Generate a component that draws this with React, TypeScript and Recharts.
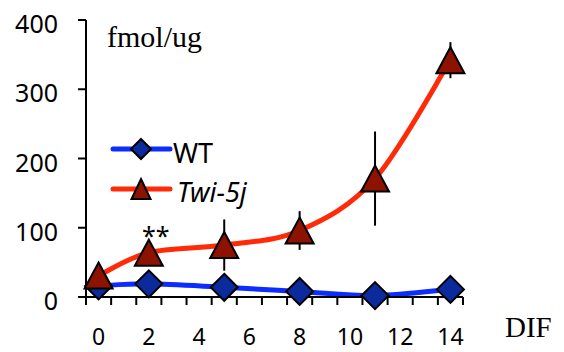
import React from 'react';
import { LineChart, Line, XAxis, YAxis, ErrorBar, Legend, LabelList } from 'recharts';

// days of differentiation (DIF)
const days = [0, 2, 5, 8, 11, 14];
const wtValues = [16, 19, 14, 8, 2, 11];
const wtErrors = [2, 2, 2, 2, 1, 2];
const twiValues = [31, 64, 75, 96, 171, 342];
const twiErrors = [6, 8, 37, 28, 68, 26];
const twiNotes = ['', '**', '', '', '', ''];

const yTicks = [0, 100, 200, 300, 400];
const xLabelTicks = [0, 2, 4, 6, 8, 10, 12, 14];
const xBoundaryTicks = [-0.5, 0.5, 1.5, 2.5, 3.5, 4.5, 5.5, 6.5, 7.5, 8.5, 9.5, 10.5, 11.5, 12.5, 13.5, 14.5];

const BLUE = '#0D2DFF';
const BLUE_FILL = '#0B2A9C';
const RED = '#FF2A08';
const RED_FILL = '#8E1200';
const SANS = '"Noto Sans", sans-serif';
const SERIF = '"Liberation Serif", serif';

const data = days.map((d, i) => ({
  day: d,
  wt: wtValues[i],
  wtErr: wtErrors[i],
  twi: twiValues[i],
  twiErr: twiErrors[i],
  note: twiNotes[i],
}));

const xTicks = [...xBoundaryTicks, ...xLabelTicks].sort((a, b) => a - b);

// spreadsheet-style smoothed line (catmull-rom like bezier)
const smoothCurve = (context: any) => {
  let pts: number[][] = [];
  return {
    areaStart() {},
    areaEnd() {},
    lineStart() {
      pts = [];
    },
    point(x: number, y: number) {
      pts.push([+x, +y]);
    },
    lineEnd() {
      const n = pts.length;
      if (!n) return;
      context.moveTo(pts[0][0], pts[0][1]);
      for (let i = 0; i < n - 1; i++) {
        const p0 = pts[Math.max(i - 1, 0)];
        const p1 = pts[i];
        const p2 = pts[i + 1];
        const p3 = pts[Math.min(i + 2, n - 1)];
        context.bezierCurveTo(
          p1[0] + (p2[0] - p0[0]) / 6,
          p1[1] + (p2[1] - p0[1]) / 6,
          p2[0] - (p3[0] - p1[0]) / 6,
          p2[1] - (p3[1] - p1[1]) / 6,
          p2[0],
          p2[1]
        );
      }
    },
  };
};

const diamond = (cx: number, cy: number, r: number) =>
  `${cx},${cy - r} ${cx + r},${cy} ${cx},${cy + r} ${cx - r},${cy}`;

const triangle = (cx: number, cy: number, w: number, h: number) =>
  `${cx},${cy - h / 2} ${cx + w / 2},${cy + h / 2} ${cx - w / 2},${cy + h / 2}`;

const DiamondDot = (p: any) => (
  <polygon key={`d-${p.index}`} points={diamond(p.cx, p.cy, 13.5)} fill={BLUE_FILL} stroke="#000" strokeWidth={2} />
);

const TriangleDot = (p: any) => (
  <polygon key={`t-${p.index}`} points={triangle(p.cx, p.cy, 28, 26)} fill={RED_FILL} stroke="#000" strokeWidth={2} />
);

const XTick = ({ x, y, payload }: any) => {
  const v = payload.value;
  if (xLabelTicks.includes(v)) {
    return (
      <text x={x} y={y + 48} textAnchor="middle" fontSize={23} fontFamily={SANS} fill="#000">
        {v}
      </text>
    );
  }
  return <line x1={x} x2={x} y1={y} y2={y + 8} stroke="#000" strokeWidth={2} />;
};

const YTick = ({ x, y, payload }: any) => (
  <text x={x} y={y} dy={13} textAnchor="end" fontSize={25} fontFamily={SANS} fill="#000">
    {payload.value}
  </text>
);

const NoteLabel = ({ x, y, value }: any) =>
  value ? (
    <text x={x + 7} y={y - 8} textAnchor="middle" fontSize={25} fontFamily={SANS} fill="#000">
      {value}
    </text>
  ) : null;

const LegendBox = () => (
  <svg width={170} height={90}>
    <line x1={8} x2={65} y1={24} y2={24} stroke={BLUE} strokeWidth={5} strokeLinecap="round" />
    <polygon points={diamond(36, 24, 10)} fill={BLUE_FILL} stroke="#000" strokeWidth={2} />
    <text x={68} y={38} fontSize={27} fontFamily={SANS} fill="#000">WT</text>
    <line x1={8} x2={65} y1={64} y2={64} stroke={RED} strokeWidth={5} strokeLinecap="round" />
    <polygon points={triangle(36, 64, 19, 20)} fill={RED_FILL} stroke="#000" strokeWidth={2} />
    <text x={72} y={77} fontSize={27} fontFamily={SANS} fontStyle="italic" fill="#000">Twi-5j</text>
  </svg>
);

export default function App() {
  return (
    <div style={{ position: 'absolute', left: 0, top: 0, background: '#fff' }}>
      <LineChart width={564} height={352} data={data} margin={{ top: 20, right: 101, bottom: 0, left: 0 }}>
        <XAxis
          type="number"
          dataKey="day"
          domain={[-0.5, 14.5]}
          ticks={xTicks}
          interval={0}
          tickLine={false}
          tickSize={0}
          tickMargin={0}
          height={55}
          axisLine={{ stroke: '#000', strokeWidth: 2 }}
          tick={<XTick />}
        />
        <YAxis
          domain={[0, 400]}
          ticks={yTicks}
          interval={0}
          width={86}
          tickSize={8}
          tickMargin={20}
          tickLine={{ stroke: '#000', strokeWidth: 2 }}
          axisLine={{ stroke: '#000', strokeWidth: 2 }}
          tick={<YTick />}
        />
        <Legend
          layout="horizontal"
          verticalAlign="middle"
          align="center"
          content={<LegendBox />}
          wrapperStyle={{ left: 105, top: 125, width: 170, height: 90 }}
        />
        <Line
          type={smoothCurve as any}
          dataKey="wt"
          stroke={BLUE}
          strokeWidth={5}
          dot={DiamondDot}
          activeDot={false}
          isAnimationActive={false}
        >
          <ErrorBar dataKey="wtErr" direction="y" width={0} stroke="#000" strokeWidth={2} />
        </Line>
        <Line
          type={smoothCurve as any}
          dataKey="twi"
          stroke={RED}
          strokeWidth={5}
          dot={TriangleDot}
          activeDot={false}
          isAnimationActive={false}
        >
          <ErrorBar dataKey="twiErr" direction="y" width={0} stroke="#000" strokeWidth={2} />
          <LabelList dataKey="note" content={<NoteLabel />} />
        </Line>
        <text x={107} y={47} fontSize={30} fontFamily={SERIF} fill="#000">fmol/ug</text>
        <text x={505} y={337} fontSize={29} fontFamily={SERIF} fill="#000">DIF</text>
      </LineChart>
    </div>
  );
}
